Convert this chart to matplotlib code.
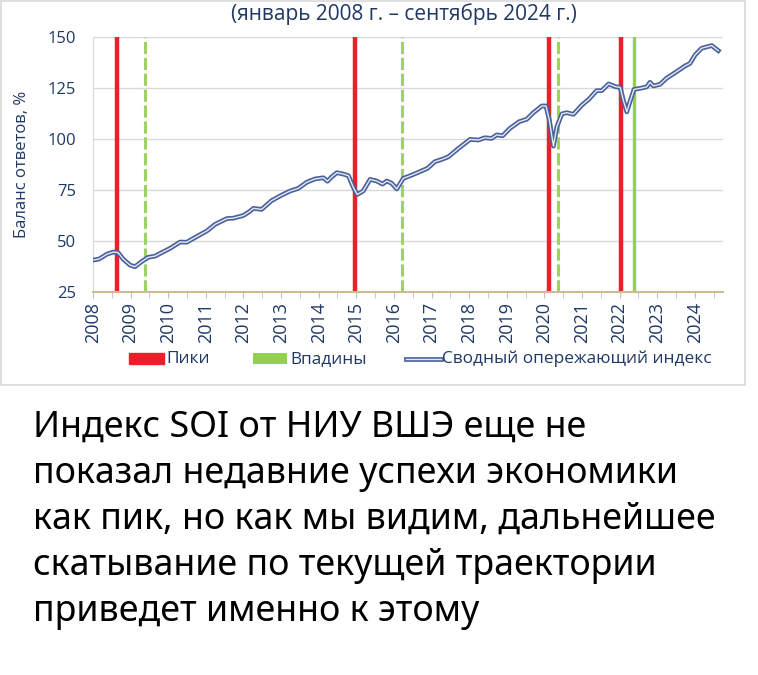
import numpy as np
import matplotlib
matplotlib.use('Agg')
import matplotlib.pyplot as plt
import matplotlib.patheffects as pe
from matplotlib.patches import Rectangle
from matplotlib.lines import Line2D

plt.rcParams['font.family'] = ['Open Sans', 'DejaVu Sans']
plt.rcParams['hatch.color'] = '#C6E6A0'

###DATA###
# months since Jan 2008 (axis position) and index value
months = [0.3, 2, 4.4, 6.5, 8, 9.7, 11.8, 13.4, 15.5, 17.6, 19.8, 21.9, 24.6, 27.8, 29.9,
          33, 36.3, 39, 42.7, 44.8, 48, 50, 51.2, 53.8, 57, 60.2, 62.9, 65.5, 68.2, 70.8,
          73.5, 74.8, 76.2, 77.8, 79.9, 81.5, 83, 84.3, 86.2, 88.4, 90.5, 92.4, 93.7, 95.3,
          96.9, 99, 101.7, 104.3, 106.7, 109.1, 111.3, 113.4, 116.6, 120.3, 123, 125, 127.2,
          128.8, 130.7, 133, 136, 138.4, 140.5, 143.2, 144.5, 145.6, 146.9, 148, 149.6, 151.1,
          153.3, 155.9, 158.2, 160.7, 162.3, 164.5, 166.6, 168.2, 169.2, 170.3, 171.3, 172.6,
          175.1, 176.7, 177.7, 178.8, 180.9, 183, 185.7, 188.9, 190.5, 192.1, 194.2, 197.4, 199.5]
index = [40.7, 41.2, 43.5, 44.6, 44.3, 41, 38.2, 37.4, 39.9, 42, 42.6, 44.3, 46.4, 49.5, 49.4,
         52.1, 54.9, 58.2, 61, 61.2, 62.5, 64.5, 66, 65.5, 69.8, 72.5, 74.5, 75.8, 78.8, 80.4,
         81, 79.3, 81.5, 83.5, 82.8, 82, 76.5, 72.8, 74.5, 80.2, 79.4, 77.9, 79.4, 78.3,
         75.5, 80.7, 82.3, 84, 85.6, 88.9, 90, 91.3, 95.4, 99.8, 99.5, 100.6, 100.3,
         102, 101.6, 105.2, 108.5, 109.7, 112.9, 116.2, 116.2, 109.3, 96.5, 106, 112.3, 112.9,
         112.1, 116.5, 119.5, 123.7, 123.7, 127, 125.7, 125.3, 119, 113.3, 118.2, 124.3,
         125, 125.6, 127.8, 126, 126.8, 129.8, 132.5, 135.8, 137.1, 141.2, 144.5, 145.8, 143.3]

peaks = ['2008-08', '2014-12', '2020-02', '2022-01']
troughs = ['2009-05', '2016-03', '2020-05', '2022-05']
trough_solid = [False, False, False, True]

years = list(range(2008, 2025))
yticks = [25, 50, 75, 100, 125, 150]

navy = '#1F3864'
red = '#E8202A'
green = '#92D050'
line_out = '#4A629A'
line_in = '#E4E9F3'


def pos(s):
    y, m = s.split('-')
    return (int(y) - 2008) * 12 + int(m) - 1 + 0.5


def fx(px):
    return px / 758


def fy(py):
    return 1 - py / 675


##### PLOT #####
fig = plt.figure(figsize=(7.58, 6.75), dpi=100)
ax = fig.add_axes([fx(93), fy(292), (723 - 93) / 758, (292 - 37) / 675])

ax.set_axisbelow(True)
ax.yaxis.grid(color='#D9D9D9', linewidth=1)

for p in peaks:
    ax.axvline(pos(p), color=red, linewidth=3.2, zorder=2)
for t, solid in zip(troughs, trough_solid):
    if solid:
        ax.axvline(pos(t), color=green, linewidth=2.4, zorder=2)
    else:
        ax.axvline(pos(t), color='#9DD35E', linewidth=2.2, linestyle=(0, (4, 1.2)), zorder=2)

ax.plot(months, index, color=line_in, linewidth=1.0, zorder=3,
        path_effects=[pe.Stroke(linewidth=3.4, foreground=line_out), pe.Normal()])

ax.set_xlim(0, 201)
ax.set_ylim(25, 150)
ax.set_yticks(yticks)
ax.set_xticks([(y - 2008) * 12 for y in years], labels=[str(y) for y in years])
ax.set_xticks(np.arange(6, 201, 12), minor=True)

ax.spines['top'].set_visible(False)
ax.spines['right'].set_visible(False)
ax.spines['left'].set_color('#D9D9D9')
ax.spines['bottom'].set_color('#CDBB95')
ax.spines['bottom'].set_linestyle((0, (1, 1)))
ax.spines['bottom'].set_linewidth(1.5)

ax.tick_params(axis='y', length=0, labelsize=12, labelcolor=navy, pad=12)
ax.tick_params(axis='x', which='both', length=4, color='#BFBFBF', labelsize=13,
               labelcolor=navy, labelrotation=90, pad=3)

ax.set_ylabel('Баланс ответов, %', color=navy, fontsize=12)
ax.yaxis.set_label_coords(-0.10, 0.5)

fig.text(fx(404), fy(14), '(январь 2008 г. – сентябрь 2024 г.)', ha='center', va='center',
         color=navy, fontsize=15)

##### LEGEND #####
fig.patches.append(Rectangle((fx(129), fy(364)), 35 / 758, 11 / 675, transform=fig.transFigure,
                             facecolor=red, edgecolor=red))
fig.text(fx(166), fy(359), 'Пики', ha='left', va='center', color=navy, fontsize=12.4)
fig.patches.append(Rectangle((fx(253), fy(364)), 34 / 758, 11 / 675, transform=fig.transFigure,
                             facecolor=green, edgecolor=green, hatch='....', linewidth=0))
fig.text(fx(290), fy(359), 'Впадины', ha='left', va='center', color=navy, fontsize=12.4)
fig.lines.append(Line2D([fx(406), fx(441)], [fy(359), fy(359)], transform=fig.transFigure,
                        color=line_in, linewidth=1.0,
                        path_effects=[pe.Stroke(linewidth=3.4, foreground=line_out), pe.Normal()]))
fig.text(fx(442), fy(359), 'Сводный опережающий индекс', ha='left', va='center', color=navy,
         fontsize=12.4)

# frame around chart screenshot
fig.patches.append(Rectangle((fx(1), fy(385)), 744 / 758, 384 / 675, transform=fig.transFigure,
                             fill=False, edgecolor='#D9D9D9', linewidth=1.2))

caption = ['Индекс SOI от НИУ ВШЭ еще не',
           'показал недавние успехи экономики',
           'как пик, но как мы видим, дальнейшее',
           'скатывание по текущей траектории',
           'приведет именно к этому']
for i, line in enumerate(caption):
    fig.text(fx(33), fy(428 + i * 46), line, ha='left', va='center', fontsize=25.8,
             color='black', family=['Noto Sans', 'DejaVu Sans'])

plt.savefig('out.png', dpi=100)
